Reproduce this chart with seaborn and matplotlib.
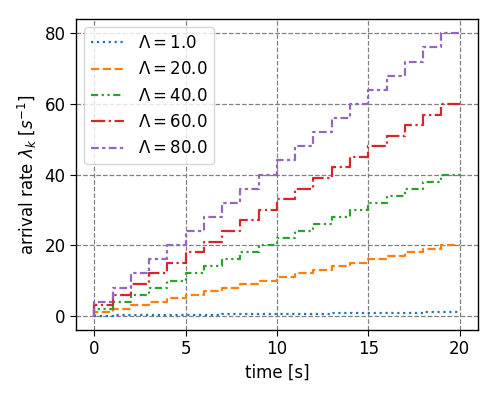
import matplotlib
matplotlib.use("Agg")
import matplotlib.pyplot as plt
import seaborn as sns

# time grid (step edges, seconds)
time_s = [0, 1, 2, 3, 4, 5, 6, 7, 8, 9, 10, 11, 12, 13, 14, 15, 16, 17, 18, 19, 20]

# arrival rate per step for each total rate Lambda
rate_1 = [0.0, 0.05, 0.1, 0.15, 0.2, 0.25, 0.3, 0.35, 0.4, 0.45, 0.5,
          0.55, 0.6, 0.65, 0.7, 0.75, 0.8, 0.85, 0.9, 0.95, 1.0]
rate_20 = [0, 1, 2, 3, 4, 5, 6, 7, 8, 9, 10, 11, 12, 13, 14, 15, 16, 17, 18, 19, 20]
rate_40 = [0, 2, 4, 6, 8, 10, 12, 14, 16, 18, 20, 22, 24, 26, 28, 30, 32, 34, 36, 38, 40]
rate_60 = [0, 3, 6, 9, 12, 15, 18, 21, 24, 27, 30, 33, 36, 39, 42, 45, 48, 51, 54, 57, 60]
rate_80 = [0, 4, 8, 12, 16, 20, 24, 28, 32, 36, 40, 44, 48, 52, 56, 60, 64, 68, 72, 76, 80]

labels = [r"$\Lambda = 1.0$", r"$\Lambda = 20.0$", r"$\Lambda = 40.0$",
          r"$\Lambda = 60.0$", r"$\Lambda = 80.0$"]
series = [rate_1, rate_20, rate_40, rate_60, rate_80]
colors = ["#1f77b4", "#ff7f0e", "#2ca02c", "#d62728", "#9467bd"]
styles = [":", "--", (0, (3.2, 1.6, 1, 1.6, 1, 1.6)), "-.", (0, (3.5, 1.5, 1.5, 1.5))]

sns.set_style("ticks")
plt.rcParams.update({
    "font.family": "DejaVu Sans",
    "font.size": 12,
    "mathtext.fontset": "dejavusans",
    "text.color": "black",
    "axes.labelcolor": "black",
    "xtick.color": "black",
    "ytick.color": "black",
})

fig = plt.figure(figsize=(4.98, 3.99), dpi=100)
ax = fig.add_axes([0.1526, 0.173, 0.807, 0.779])

for vals, lab, col, ls in zip(series, labels, colors, styles):
    sns.lineplot(x=time_s, y=vals, ax=ax, color=col, linestyle=ls,
                 drawstyle="steps-pre", linewidth=1.6, label=lab)

ax.set_xlim(-1, 21)
ax.set_ylim(-4, 84)
ax.set_xticks([0, 5, 10, 15, 20])
ax.set_yticks([0, 20, 40, 60, 80])
ax.grid(True, color="gray", linestyle="--", linewidth=0.9)
ax.set_xlabel("time [s]", fontsize=12)
ax.set_ylabel(r"arrival rate $\lambda_k$ [$s^{-1}$]", fontsize=12)
ax.tick_params(labelsize=12, direction="out", length=4, color="black")
for sp in ax.spines.values():
    sp.set_color("black")
    sp.set_linewidth(1.0)
ax.legend(loc="upper left", fontsize=12)

fig.savefig("out.png", dpi=100)
